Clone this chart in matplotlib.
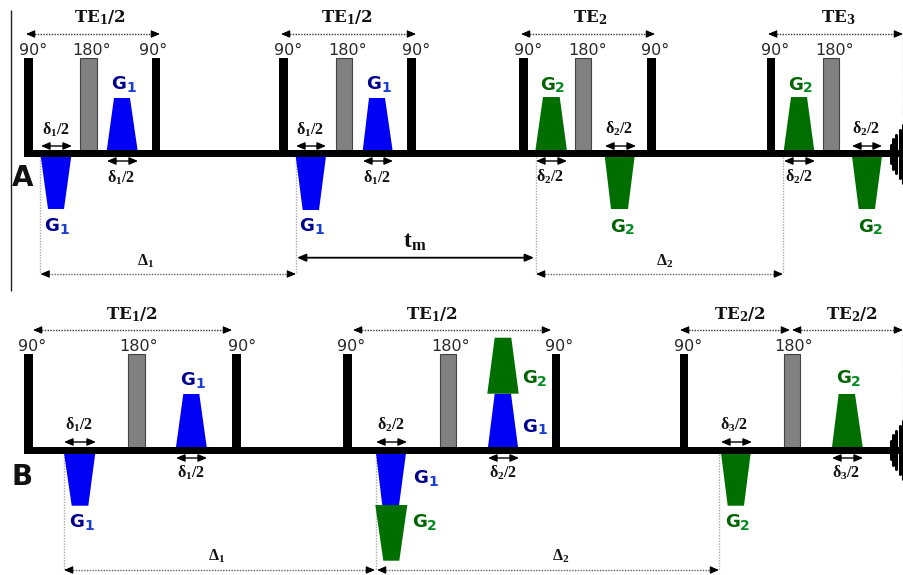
import matplotlib
matplotlib.use("Agg")
import matplotlib.pyplot as plt
from matplotlib.patches import Rectangle, Polygon

plt.rcParams.update({
    'font.family': 'DejaVu Sans',
    'mathtext.fontset': 'custom',
    'mathtext.rm': 'DejaVu Serif:bold',
    'mathtext.bf': 'Liberation Serif:bold',
    'mathtext.it': 'DejaVu Serif:bold',
    'mathtext.fallback': 'stix',
})

BLUE, GREEN = '#0000f5', '#006f00'
BLUE_T, GREEN_T = ('#00008c', '#1a3fd0'), ('#006400', '#008a20')

# ---- pulses (left, right) ----
pulses_90_a = [(24.5, 33), (152, 160.5), (279.5, 288), (407.5, 416), (519, 528), (647, 656), (767, 775.5)]
pulses_180_a = [(80.5, 97), (336, 352), (575.5, 591.5), (823, 839)]
pulses_90_b = [(24.5, 32.7), (231.7, 240.7), (343.3, 351.7), (552, 560), (679.7, 688)]
pulses_180_b = [(128.3, 145), (440, 456.3), (783.7, 799.7)]

# ---- gradient lobes: wide0, wide1, narrow0, narrow1, y_wide, y_narrow, colour ----
lobes = [
    (40.7, 71.3, 48, 64, 156, 209, BLUE),
    (106.7, 137.7, 114, 130, 151, 98, BLUE),
    (295.7, 326, 302.7, 319, 156, 210, BLUE),
    (362.7, 392.7, 369, 385, 151, 98, BLUE),
    (535.3, 567, 543, 559.7, 151, 97, GREEN),
    (604.7, 634.7, 611, 628, 156, 209, GREEN),
    (783.7, 814.3, 791, 807, 151, 97, GREEN),
    (852, 882, 858.7, 875, 156, 209, GREEN),
    (64, 95.3, 71.7, 88.3, 453, 505.7, BLUE),
    (176, 206.7, 183.3, 199.3, 447, 394, BLUE),
    (376, 406, 382.3, 399, 453, 505.5, BLUE),
    (375.3, 407.3, 383.3, 399.3, 505, 560.7, GREEN),
    (488, 518, 494.7, 511, 447, 393.7, BLUE),
    (487.3, 518.7, 494.7, 511.3, 393.7, 337.7, GREEN),
    (721, 750.7, 727.7, 744, 453, 505.7, GREEN),
    (832, 862.7, 838.7, 855, 447, 394, GREEN),
]

# ---- flip angle labels ----
labels_90 = [(33, 55), (153, 55), (288, 55), (416, 55), (528, 55), (655, 55), (775, 55),
             (32, 351), (242, 351), (351, 351), (559, 351), (688, 351)]
labels_180 = [(92, 55), (348, 55), (588, 55), (835, 55), (139, 351), (451, 351), (794, 351)]

# ---- gradient labels: x, y, name, subscript, colours ----
g_labels = [
    (124, 84, '1', BLUE_T), (379, 84, '1', BLUE_T), (57, 226, '1', BLUE_T), (312, 226, '1', BLUE_T),
    (553, 85, '2', GREEN_T), (801, 85, '2', GREEN_T), (623, 227, '2', GREEN_T), (871, 227, '2', GREEN_T),
    (193, 380, '1', BLUE_T), (82, 522, '1', BLUE_T), (426, 478, '1', BLUE_T), (425, 522, '2', GREEN_T),
    (535, 378, '2', GREEN_T), (535, 427, '1', BLUE_T), (738, 522, '2', GREEN_T), (849, 378, '2', GREEN_T),
]

# ---- delta arrows: x0, x1, y, label x, label y, index ----
deltas = [
    (41, 72, 146, 56, 130, 1), (296, 326, 146, 310, 130, 1), (605, 636, 146, 619, 129, 2), (852, 882, 146, 866, 129, 2),
    (107, 138, 161, 121, 178, 1), (363, 393, 161, 377, 178, 1), (536, 567, 161, 550, 177, 2), (784, 815, 161, 799, 177, 2),
    (64, 96, 442, 79, 425, 1), (376, 407, 442, 391, 425, 2), (721, 752, 442, 734, 425, 3),
    (176, 207, 458, 191, 473, 1), (488, 519, 458, 503, 473, 2), (832, 863, 458, 846, 473, 3),
]

# ---- TE spans: x0, x1, y, text, text x, text y ----
te_spans = [
    (26, 160, 34, r'$\mathrm{TE_1/2}$', 100, 18), (281, 416, 34, r'$\mathrm{TE_1/2}$', 347, 18),
    (521, 655, 34, r'$\mathrm{TE_2}$', 590, 18), (768, 903, 34, r'$\mathrm{TE_3}$', 838, 18),
    (33, 232, 330, r'$\mathrm{TE_1/2}$', 132, 315), (353, 551, 330, r'$\mathrm{TE_1/2}$', 432, 315),
    (680, 790, 330, r'$\mathrm{TE_2/2}$', 740, 315), (792, 903, 330, r'$\mathrm{TE_2/2}$', 852, 315),
]

# ---- diffusion spans: x0, x1, y, text, text x, text y ----
big_deltas = [
    (40.5, 296, 274, 1, 146, 261), (536, 783, 274, 2, 665, 261),
    (64, 375, 570, 1, 217, 556), (377, 719, 570, 2, 561, 556),
]

# ---- guides: x, y0, y1 ----
guides = [(40.5, 157, 274), (296.5, 157, 274), (536, 157, 274), (783, 157, 274), (903, 34, 115),
          (64, 454, 570), (376, 454, 570), (719.5, 454, 570), (903, 330, 420)]

# ---- echo: x position, half height ----
echo_x = [891, 893.5, 896.5, 900, 903]
echo_h = [9, 15, 19, 24, 29]

fig = plt.figure(figsize=(9.04, 5.75), dpi=100)
ax = fig.add_axes([0, 0, 1, 1])
ax.set_xlim(0, 904)
ax.set_ylim(575, 0)
ax.axis('off')

ax.plot([11.5, 11.5], [10, 291], color='#222222', lw=1.0, solid_capstyle='butt')


def head(x0, x1, y, color='black', ms=7):
    ax.annotate('', xy=(x1, y), xytext=(x0, y),
                arrowprops=dict(arrowstyle='-|>,head_width=0.32,head_length=0.75', color=color,
                                lw=0.8, shrinkA=0, shrinkB=0, mutation_scale=ms), zorder=6)


def dotted(x0, x1, y, color='#333333'):
    ax.plot([x0 + 3, x1 - 3], [y, y], color=color, lw=1.0, ls=(0, (1, 1)), zorder=5)
    head(x0 + 6, x0, y, 'black')
    head(x1 - 6, x1, y, 'black')


for x, y0, y1 in guides:
    ax.plot([x, x], [y0, y1], color='#aaaaaa', lw=1.0, ls=(0, (1, 1)), zorder=1)

for y, ytop, p90, p180 in [(153.5, 58, pulses_90_a, pulses_180_a), (450.3, 353.5, pulses_90_b, pulses_180_b)]:
    ax.add_patch(Rectangle((24.5, y - 3.7), 904 - 24.5, 7.4, fc='black', ec='none', zorder=4))
    for a, b in p90:
        ax.add_patch(Rectangle((a, ytop), b - a, y - ytop, fc='black', ec='none', zorder=4))
    for a, b in p180:
        ax.add_patch(Rectangle((a, ytop), b - a, y - ytop, fc='#808080', ec='#444444', lw=0.8, zorder=3))
    for ex, eh in zip(echo_x, echo_h):
        ax.plot([ex, ex], [y - eh, y + eh], color='black', lw=2.2, solid_capstyle='round', zorder=4)

for w0, w1, n0, n1, yw, yn, c in lobes:
    ax.add_patch(Polygon([(w0, yw), (w1, yw), (n1, yn), (n0, yn)], closed=True, fc=c, ec='none', zorder=2))

for x, y in labels_90:
    ax.text(x, y, '90°', ha='center', va='baseline', fontsize=11.5, color='#2a2a2a')
for x, y in labels_180:
    ax.text(x, y, '180°', ha='center', va='baseline', fontsize=11.5, color='#2a2a2a')

for x, y, sub, (c0, c1) in g_labels:
    ax.text(x - 12.5, y + 5, 'G', fontsize=13, fontweight='bold', color=c0, ha='left', va='baseline')
    ax.text(x + 2, y + 7.5, sub, fontsize=10, fontweight='bold', color=c1, ha='left', va='baseline')

for x0, x1, y, lx, ly, i in deltas:
    ax.annotate('', xy=(x1, y), xytext=(x0, y),
                arrowprops=dict(arrowstyle='<|-|>,head_width=0.28,head_length=0.65', color='black', lw=1.0,
                                shrinkA=0, shrinkB=0, mutation_scale=8), zorder=6)
    ax.text(lx, ly, r'$\mathbf{δ_{%d}/2}$' % i, ha='center', va='center', fontsize=11.5, color='#111111')

for x0, x1, y, s, tx, ty in te_spans:
    dotted(x0, x1, y)
    ax.text(tx, ty, s, ha='center', va='center', fontsize=12, color='#111111')

for x0, x1, y, i, tx, ty in big_deltas:
    dotted(x0, x1, y, '#666666')
    ax.text(tx, ty, r'$\mathbf{Δ_{%d}}$' % i, ha='center', va='center', fontsize=11.5, color='#111111')

ax.annotate('', xy=(534, 257.7), xytext=(297, 257.7),
            arrowprops=dict(arrowstyle='<|-|>,head_width=0.28,head_length=0.65', color='black', lw=1.3,
                            shrinkA=0, shrinkB=0, mutation_scale=8), zorder=6)
ax.text(415, 241, r'$\mathbf{t_m}$', ha='center', va='center', fontsize=17, color='#111111')

ax.text(23, 178, 'A', ha='center', va='center', fontsize=20, fontweight='bold', color='#111111')
ax.text(22, 477, 'B', ha='center', va='center', fontsize=20, fontweight='bold', color='#111111')

fig.savefig('out.png', dpi=100)
